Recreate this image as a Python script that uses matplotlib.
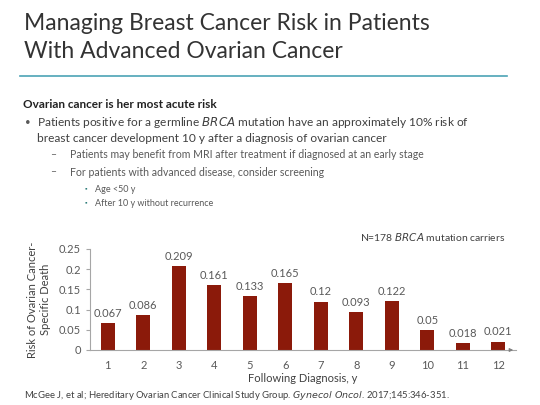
import matplotlib.pyplot as plt

plt.rcParams['font.family'] = ['Lato', 'DejaVu Sans']

years = ['1', '2', '3', '4', '5', '6', '7', '8', '9', '10', '11', '12']
risk = [0.067, 0.086, 0.209, 0.161, 0.133, 0.165, 0.12, 0.093, 0.122, 0.05, 0.018, 0.021]
risk_labels = ['0.067', '0.086', '0.209', '0.161', '0.133', '0.165',
               '0.12', '0.093', '0.122', '0.05', '0.018', '0.021']
y_ticks = [0, 0.05, 0.1, 0.15, 0.2, 0.25]
y_tick_labels = ['0', '0.05', '0.1', '0.15', '0.2', '0.25']

W, H = 540, 405
TXT = '#404040'
GREY = '#595959'
BAR = '#8B1A0A'
TEAL = '#4BA3B5'


def px(x, y):
    return x / W, 1 - y / H


fig = plt.figure(figsize=(5.4, 4.05), dpi=100)
fig.patch.set_facecolor('white')

# title block
fig.text(*px(24, 23), 'Managing Breast Cancer Risk in Patients', fontsize=16.5,
         color='#333333', va='center', ha='left')
fig.text(*px(24, 51), 'With Advanced Ovarian Cancer', fontsize=16.5,
         color='#333333', va='center', ha='left')
fig.add_artist(plt.Line2D([20 / W, 507 / W], [1 - 76 / H] * 2,
                          color=TEAL, lw=1.2))

# bullets
fig.text(*px(23, 105), 'Ovarian cancer is her most acute risk', fontsize=8.5,
         fontweight='bold', color='#222222', va='center')
fig.text(*px(25, 123), '•', fontsize=7, color=GREY, va='center')
fig.text(*px(37, 123), 'Patients positive for a germline $\\it{BRCA}$ mutation have an approximately 10% risk of',
         fontsize=8.6, color=TXT, va='center')
fig.text(*px(37, 139), 'breast cancer development 10 y after a diagnosis of ovarian cancer',
         fontsize=8.6, color=TXT, va='center')
fig.text(*px(50, 155), '–', fontsize=7.5, color=GREY, va='center')
fig.text(*px(70, 155), 'Patients may benefit from MRI after treatment if diagnosed at an early stage',
         fontsize=7.6, color=GREY, va='center')
fig.text(*px(50, 172), '–', fontsize=7.5, color=GREY, va='center')
fig.text(*px(70, 172), 'For patients with advanced disease, consider screening',
         fontsize=7.6, color=GREY, va='center')
fig.text(*px(85, 189), '▪', fontsize=4.5, color='#2E7D7A', va='center')
fig.text(*px(95, 189), 'Age <50 y', fontsize=6.5, color=GREY, va='center')
fig.text(*px(85, 203), '▪', fontsize=4.5, color='#2E7D7A', va='center')
fig.text(*px(95, 203), 'After 10 y without recurrence', fontsize=6.5, color=GREY, va='center')

# chart
ax = fig.add_axes([90 / W, 1 - 350 / H, 426 / W, 101 / H])
x = range(1, len(years) + 1)
ax.bar(x, risk, width=0.4, color=BAR)
for xi, v, lab in zip(x, risk, risk_labels):
    ax.text(xi, v + 0.01, lab, ha='center', va='bottom', fontsize=8, color=GREY)

ax.set_xlim(0.5, 12.5)
ax.set_ylim(0, 0.25)
ax.set_yticks(y_ticks)
ax.set_yticklabels(y_tick_labels)
ax.set_xticks(list(x))
ax.set_xticklabels(years)
ax.tick_params(axis='y', labelsize=8, colors=GREY, length=3, color='#A6A6A6')
ax.tick_params(axis='x', labelsize=8, colors=GREY, length=0, pad=7)
for s in ['top', 'right']:
    ax.spines[s].set_visible(False)
ax.spines['left'].set_color('#A6A6A6')
ax.spines['bottom'].set_color('#A6A6A6')
ax.annotate('', xy=(1.0, 0), xytext=(0.98, 0), xycoords='axes fraction',
            arrowprops=dict(arrowstyle='-|>', color='#808080', lw=0.8,
                            mutation_scale=5))
ax.set_xlabel('Following Diagnosis, y', fontsize=8, color=TXT, labelpad=2)
ax.set_ylabel('Risk of Ovarian Cancer-\nSpecific Death', fontsize=8, color=TXT,
              labelpad=6, linespacing=1.2)

fig.text(*px(360, 237), 'N=178 $\\it{BRCA}$ mutation carriers', fontsize=7.5,
         color=TXT, va='center')
fig.text(*px(24, 396), 'McGee J, et al; Hereditary Ovarian Cancer Clinical Study Group. '
         '$\\it{Gynecol\\ Oncol}$. 2017;145:346-351.',
         fontsize=6.8, color=TXT, va='center')

fig.savefig('out.png', dpi=100)
